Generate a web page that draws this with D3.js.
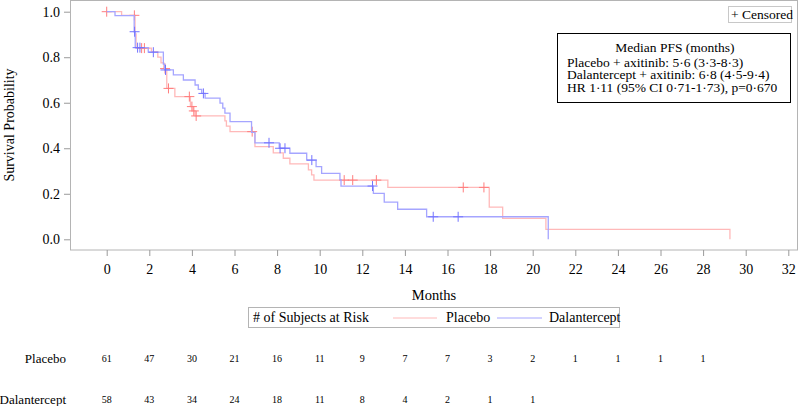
<!DOCTYPE html>
<html><head><meta charset="utf-8">
<script src="https://cdn.jsdelivr.net/npm/d3@7"></script>
</head><body style="margin:0"><svg id="c" width="800" height="406"></svg>
<script>
// Kaplan-Meier step data (time in months, survival after the event)
const placeboTimes = [0, 0.7, 1.33, 1.38, 2.1, 2.4, 2.55, 2.68, 2.82, 3.2, 3.93, 4.05, 4.15, 5.55, 5.62, 5.79, 6.96, 7.82, 8.29, 8.6, 9.47, 9.62, 9.73, 13.2, 17.96, 18.59, 20.62, 29.26];
const placeboSurv  = [1.0, 0.984, 0.902, 0.84, 0.825, 0.80, 0.775, 0.75, 0.663, 0.627, 0.583, 0.564, 0.542, 0.52, 0.497, 0.473, 0.407, 0.38, 0.356, 0.331, 0.305, 0.283, 0.26, 0.228, 0.141, 0.092, 0.044, 0];
const placeboCensor = [0, 1.3, 1.64, 1.77, 2.74, 2.9, 3.88, 4.0, 4.09, 4.2, 6.83, 11.15, 11.55, 12.66, 16.74, 17.71];

const dalTimes = [0, 0.39, 1.29, 1.34, 1.95, 2.66, 2.72, 3.13, 3.6, 4.15, 4.3, 4.46, 4.62, 5.32, 5.45, 5.55, 5.79, 6.8, 6.96, 8.1, 8.6, 9.39, 9.83, 10.09, 10.95, 11.0, 12.52, 13.03, 13.66, 15.02, 20.73];
const dalSurv  = [1.0, 0.983, 0.912, 0.842, 0.822, 0.77, 0.744, 0.722, 0.70, 0.678, 0.659, 0.641, 0.62, 0.598, 0.576, 0.554, 0.517, 0.47, 0.424, 0.40, 0.378, 0.348, 0.319, 0.29, 0.262, 0.234, 0.202, 0.163, 0.132, 0.099, 0];
const dalCensor = [1.31, 1.45, 1.56, 2.19, 2.76, 4.54, 7.62, 8.14, 8.37, 9.63, 12.48, 15.33, 16.5];

const xTicks = d3.range(0, 33, 2);
const yTicks = [0, 0.2, 0.4, 0.6, 0.8, 1.0];
const riskTimes = d3.range(0, 29, 2);
const placeboRisk = [61, 47, 30, 21, 16, 11, 9, 7, 7, 3, 2, 1, 1, 1, 1];
const dalRisk = [58, 43, 34, 24, 18, 11, 8, 4, 2, 1, 1];
const medianLines = ["Placebo + axitinib: 5·6 (3·3-8·3)", "Dalantercept + axitinib: 6·8 (4·5-9·4)", "HR 1·11 (95% CI 0·71-1·73), p=0·670"];

const FONT = '"Liberation Serif"';
const svg = d3.select("#c").attr("font-family", "Liberation Serif");
const x = d3.scaleLinear().domain([0, 32]).range([106.7, 788.3]);
const y = d3.scaleLinear().domain([0, 1]).range([239.3, 11.7]);
const L = 70, R = 797, T = 0.5, B = 250;

function txt(xx, yy, size, s, anchor) {
  return svg.append("text").attr("x", xx).attr("y", yy).attr("text-anchor", anchor || "start")
    .attr("font-size", size).style("font-family", FONT).text(s);
}

svg.append("rect").attr("x", L + 0.5).attr("y", T).attr("width", R - L).attr("height", B - T)
  .attr("fill", "none").attr("stroke", "#b4b4b4");

const xa = svg.append("g").attr("transform", `translate(0,${B})`)
  .call(d3.axisBottom(x).tickValues(xTicks).tickSize(6).tickPadding(8).tickFormat(d3.format("d")));
const ya = svg.append("g").attr("transform", `translate(${L},0)`)
  .call(d3.axisLeft(y).tickValues(yTicks).tickSize(6).tickPadding(4).tickFormat(d3.format(".1f")));
[xa, ya].forEach(g => {
  g.attr("font-family", "Liberation Serif").attr("font-size", 14);
  g.select(".domain").remove();
  g.selectAll("line").attr("stroke", "#9a9a9a");
  g.selectAll("text").attr("font-size", 14).style("font-family", FONT).attr("fill", "#000");
});

svg.append("text").attr("transform", `translate(14,${125}) rotate(-90)`).attr("text-anchor", "middle")
  .attr("font-size", 14).style("font-family", FONT).text("Survival Probability");
txt(434, 300, 14.5, "Months", "middle");

function stepAt(ts, ss, t) { let s = ss[0]; for (let i = 0; i < ts.length; i++) if (ts[i] <= t) s = ss[i]; return s; }
const line = d3.line().x(d => x(d[0])).y(d => y(d[1])).curve(d3.curveStepAfter);
const series = [
  {t: placeboTimes, s: placeboSurv, c: placeboCensor, line: "rgb(255,185,185)", mark: "rgb(255,125,125)"},
  {t: dalTimes, s: dalSurv, c: dalCensor, line: "rgb(165,165,255)", mark: "rgb(115,115,255)"}
];
series.forEach(se => {
  svg.append("path").datum(se.t.map((t, i) => [t, se.s[i]])).attr("d", line)
    .attr("fill", "none").attr("stroke", se.line).attr("stroke-width", 1.3);
  const g = svg.append("g").attr("stroke", se.mark).attr("stroke-width", 1);
  se.c.forEach(ct => {
    const cx = x(ct), cy = y(stepAt(se.t, se.s, ct));
    g.append("line").attr("x1", cx - 5).attr("x2", cx + 5).attr("y1", cy).attr("y2", cy);
    g.append("line").attr("x1", cx).attr("x2", cx).attr("y1", cy - 5).attr("y2", cy + 5);
  });
});

svg.append("rect").attr("x", 728.5).attr("y", 6.5).attr("width", 63).attr("height", 16)
  .attr("fill", "#fff").attr("stroke", "#c8c8c8");
txt(731, 19, 13.5, "+ Censored");

svg.append("rect").attr("x", 557.5).attr("y", 33.5).attr("width", 233).attr("height", 69)
  .attr("fill", "#fff").attr("stroke", "#000");
txt(675, 52, 13.5, "Median PFS (months)", "middle");
medianLines.forEach((t, i) => txt(567, 66.5 + i * 12.8, 13.5, t));

svg.append("rect").attr("x", 248.5).attr("y", 307.5).attr("width", 371).attr("height", 20)
  .attr("fill", "#fff").attr("stroke", "#b4b4b4");
txt(253, 322, 14, "# of Subjects at Risk");
svg.append("line").attr("x1", 393).attr("x2", 437).attr("y1", 318).attr("y2", 318).attr("stroke", series[0].line);
txt(446, 322, 14, "Placebo");
svg.append("line").attr("x1", 497).attr("x2", 542).attr("y1", 318).attr("y2", 318).attr("stroke", series[1].line);
txt(549, 322, 14, "Dalantercept");

[["Placebo", placeboRisk, 358], ["Dalantercept", dalRisk, 399]].forEach(([name, vals, yy]) => {
  txt(66, yy + 4.5, 13, name, "end");
  vals.forEach((v, i) => txt(x(riskTimes[i]), yy + 3.5, 10, v, "middle"));
});
</script></body></html>
